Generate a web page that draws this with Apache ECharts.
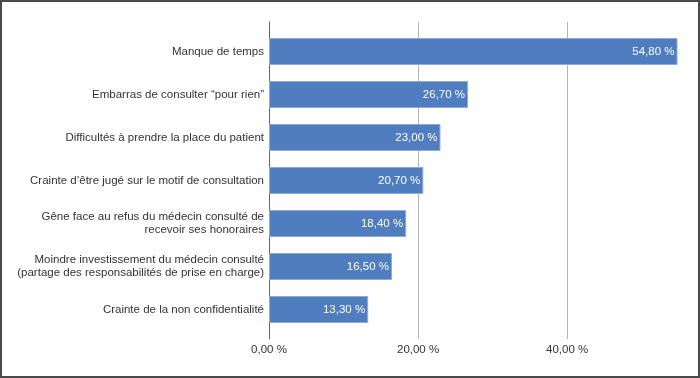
<!DOCTYPE html>
<html>
<head>
<meta charset="utf-8">
<script src="https://cdn.jsdelivr.net/npm/echarts@6/dist/echarts.min.js"></script>
<style>
  html, body { margin: 0; padding: 0; background: #fff; }
  #wrap { position: relative; width: 700px; height: 378px; }
  #main { width: 700px; height: 378px; }
  #frame { position: absolute; left: 0; top: 0; width: 700px; height: 378px; box-sizing: border-box; border: 2px solid #4a4a4a; pointer-events: none; }
</style>
</head>
<body>
<div id="wrap">
  <div id="main"></div>
  <div id="frame"></div>
</div>
<script>
  // categories, top to bottom
  var categories = [
    'Manque de temps',
    'Embarras de consulter \u201cpour rien\u201d',
    'Difficultés à prendre la place du patient',
    'Crainte d\u2019être jugé sur le motif de consultation',
    'Gêne face au refus du médecin consulté de\nrecevoir ses honoraires',
    'Moindre investissement du médecin consulté\n(partage des responsabilités de prise en charge)',
    'Crainte de la non confidentialité'
  ];
  var values = [54.8, 26.7, 23.0, 20.7, 18.4, 16.5, 13.3];
  var xMax = 55;
  var tickStep = 20;

  var fmt = function (v) { return v.toFixed(2).replace('.', ',') + ' %'; };
  var font = '"Liberation Sans", Arial, sans-serif';

  var chart = echarts.init(document.getElementById('main'));
  var option = {
    animation: false,
    grid: [
      // bars
      { left: 269, right: 21, top: 30, bottom: 47, outerBoundsMode: 'none', containLabel: false },
      // gridlines + x labels (a bit taller than the bar band)
      { left: 269, right: 21, top: 22, bottom: 39, outerBoundsMode: 'none', containLabel: false }
    ],
    xAxis: [
      { gridIndex: 0, type: 'value', min: 0, max: xMax, show: false },
      {
        gridIndex: 1, type: 'value', min: 0, max: xMax, interval: tickStep,
        axisLine: { show: false }, axisTick: { show: false },
        splitLine: { show: true, showMinLine: false, showMaxLine: false, lineStyle: { color: '#b4b4b4', width: 1 } },
        axisLabel: {
          margin: 5, color: '#333', fontSize: 11.5, fontFamily: font, showMaxLabel: false,
          formatter: function (v) { return fmt(v); }
        }
      }
    ],
    yAxis: [
      {
        gridIndex: 0, type: 'category', data: categories, inverse: true,
        axisLine: { show: false }, axisTick: { show: false },
        axisLabel: { margin: 5, color: '#333', fontSize: 11.5, lineHeight: 13, fontFamily: font, align: 'right' }
      },
      {
        gridIndex: 1, type: 'value', min: 0, max: 1,
        axisLine: { show: true, lineStyle: { color: '#666', width: 1 } },
        axisTick: { show: false }, axisLabel: { show: false }, splitLine: { show: false }
      }
    ],
    series: [{
      type: 'bar',
      xAxisIndex: 0, yAxisIndex: 0,
      data: values,
      barWidth: 27,
      itemStyle: { color: '#4f7dc0', borderColor: '#8fabd9', borderWidth: 1 },
      label: {
        show: true, position: 'insideRight', distance: 3,
        color: '#fff', fontSize: 11.5, fontFamily: font,
        formatter: function (p) { return fmt(p.value); }
      }
    }]
  };
  chart.setOption(option);
</script>
</body>
</html>
